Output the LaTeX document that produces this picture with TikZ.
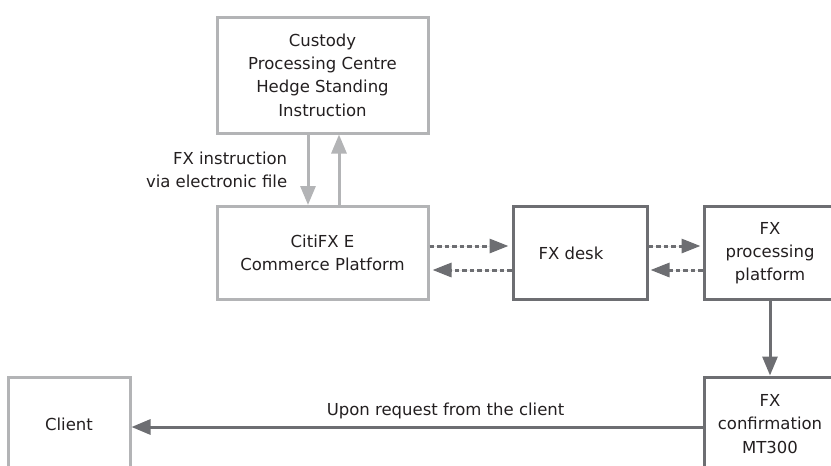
\documentclass[tikz,border=0pt]{standalone}
\usepackage{fontspec}
\setmainfont{DejaVu Sans}
\usepackage{tikz}
\usetikzlibrary{arrows.meta}

\definecolor{lightgrey}{HTML}{B3B4B6}
\definecolor{darkgrey}{HTML}{6D6E72}
\definecolor{textgrey}{HTML}{231F20}

\begin{document}
\begin{tikzpicture}[x = 1pt, y = -1pt,
    lightbox/.style = {draw=lightgrey, line width=3pt, inner sep=0pt, align=center, text=textgrey, font=\fontsize{16.5}{23.3}\selectfont},
    darkbox/.style = {lightbox, draw=darkgrey},
    lightarrow/.style = {draw=lightgrey, line width=3pt, -{Triangle[length=19pt, width=15pt]}},
    darkarrow/.style = {lightarrow, draw=darkgrey, fill=darkgrey},
    dasharrow/.style = {darkarrow, dash pattern=on 4.5pt off 3pt, -{Triangle[length=19pt, width=14pt]}},
    label/.style = {text=textgrey, align=right, font=\fontsize{16.5}{23.3}\selectfont}]
\useasboundingbox (0,0) rectangle (831,466);
\clip (0,0) rectangle (831,466);

\node[lightbox, minimum width=211pt, minimum height=116pt] (custody) at (322.5,75)
    {Custody\\Processing Centre\\Hedge Standing\\Instruction};
\node[lightbox, minimum width=211pt, minimum height=93pt] (citifx) at (322.5,253)
    {CitiFX E\\Commerce Platform};
\node[darkbox, minimum width=134pt, minimum height=93pt] (desk) at (580,253) {FX desk\hspace{18pt}};
\node[darkbox, minimum width=132pt, minimum height=93pt] (proc) at (770,253)
    {FX\\processing\\platform};
\node[darkbox, minimum width=132pt, minimum height=94pt] (confirm) at (770,424)
    {FX\\confirmation\\MT300};
\node[lightbox, minimum width=122pt, minimum height=94pt] (client) at (69,424) {Client};

\draw[lightarrow] ([xshift=-14.5pt]custody.south) -- ([xshift=-14.5pt]citifx.north)
    node[label, midway, left=16pt] {FX instruction\\via electronic file};
\draw[lightarrow] ([xshift=16.5pt]citifx.north) -- ([xshift=16.5pt]custody.south);

\draw[dasharrow] ([yshift=7pt]citifx.east) -- ([xshift=-3pt, yshift=7pt]desk.west);
\draw[dasharrow] ([yshift=-17pt]desk.west) -- ([xshift=3pt, yshift=-17pt]citifx.east);
\draw[dasharrow] ([yshift=7pt]desk.east) -- ([xshift=-2pt, yshift=7pt]proc.west);
\draw[dasharrow] ([yshift=-17pt]proc.west) -- ([xshift=2pt, yshift=-17pt]desk.east);

\draw[darkarrow] (proc.south) -- (confirm.north);
\draw[darkarrow] ([yshift=-3pt]confirm.west) -- ([yshift=-3pt]client.east)
    node[label, pos=0.45, above=3pt] {Upon request from the client};
\end{tikzpicture}
\end{document}
